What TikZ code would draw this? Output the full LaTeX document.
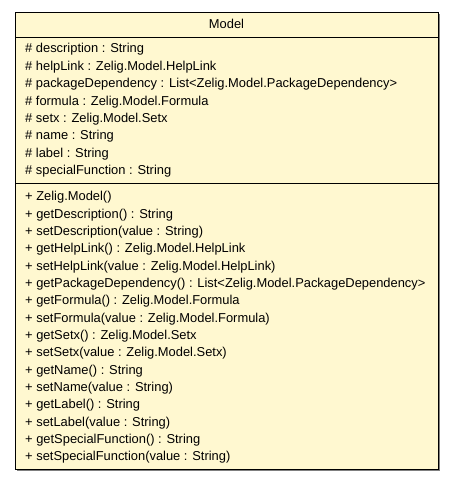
\documentclass[tikz,border=0pt]{standalone}
\usepackage{fontspec}
\setmainfont{Liberation Sans}
\definecolor{boxfill}{RGB}{255,248,208}
\definecolor{shadowc}{RGB}{128,128,128}
\begin{document}
\begin{tikzpicture}[x=1pt,y=-1pt,
  member/.style={anchor=west,inner sep=0pt,font=\fontsize{12.9}{14}\selectfont},
  boxline/.style={draw=black,line width=1pt}]
\useasboundingbox (0,0) rectangle (453,480);
\fill[shadowc] (17,14) rectangle (440,471);
\node[boxline,fill=boxfill,minimum width=423pt,minimum height=457pt,inner sep=0pt,anchor=north west] (box) at (15,12) {};
\draw[line width=1pt] (15,37) -- (438,37);
\draw[line width=1pt] (15,183.5) -- (438,183.5);
\node[member,anchor=center] (title) at (226.5,24) {Model};
\foreach \t [count=\i] in {
 {\# description : String},
 {\# helpLink : Zelig.Model.HelpLink},
 {\# packageDependency : List<Zelig.Model.PackageDependency>},
 {\# formula : Zelig.Model.Formula},
 {\# setx : Zelig.Model.Setx},
 {\# name : String},
 {\# label : String},
 {\# specialFunction : String}}
 \node[member] (a\i) at (25,{49.5+(\i-1)*17.4}) {\t};
\foreach \t [count=\i] in {
 {+ Zelig.Model()},
 {+ getDescription() : String},
 {+ setDescription(value : String)},
 {+ getHelpLink() : Zelig.Model.HelpLink},
 {+ setHelpLink(value : Zelig.Model.HelpLink)},
 {+ getPackageDependency() : List<Zelig.Model.PackageDependency>},
 {+ getFormula() : Zelig.Model.Formula},
 {+ setFormula(value : Zelig.Model.Formula)},
 {+ getSetx() : Zelig.Model.Setx},
 {+ setSetx(value : Zelig.Model.Setx)},
 {+ getName() : String},
 {+ setName(value : String)},
 {+ getLabel() : String},
 {+ setLabel(value : String)},
 {+ getSpecialFunction() : String},
 {+ setSpecialFunction(value : String)}}
 \node[member] (m\i) at (25,{197.5+(\i-1)*17.33}) {\t};
\end{tikzpicture}
\end{document}
